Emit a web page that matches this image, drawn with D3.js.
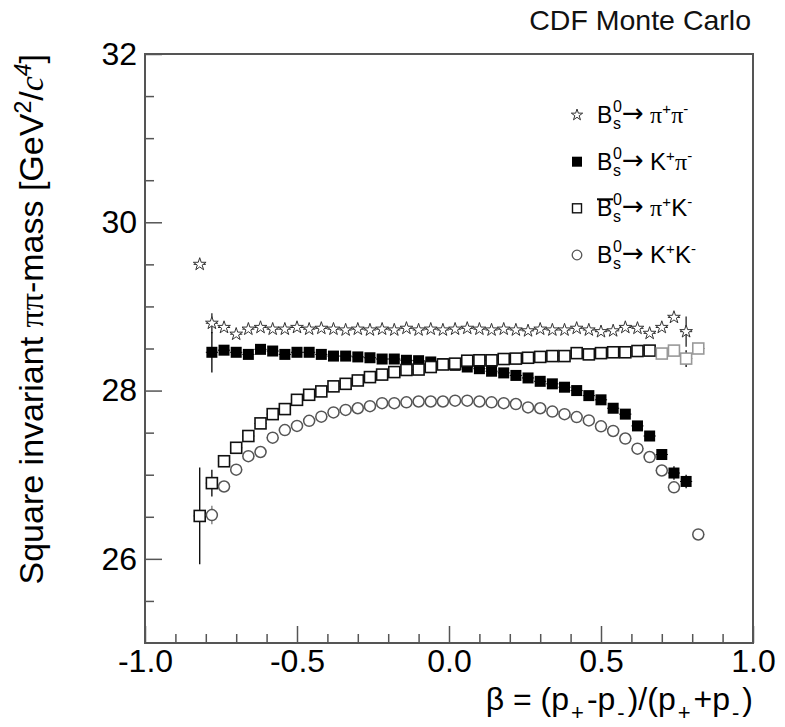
<!DOCTYPE html>
<html>
<head>
<meta charset="utf-8">
<script src="https://cdn.jsdelivr.net/npm/d3@7"></script>
<style>
  html, body { margin: 0; padding: 0; background: #fff; }
  svg { display: block; }
  text { font-family: "Liberation Sans", Arial, Helvetica, sans-serif; }
</style>
</head>
<body>
<svg id="chart" width="785" height="727"></svg>
<script>
// ---------- data ----------
const betaBins = [-0.82,-0.78,-0.74,-0.70,-0.66,-0.62,-0.58,-0.54,-0.50,-0.46,-0.42,-0.38,-0.34,-0.30,-0.26,-0.22,-0.18,-0.14,-0.10,-0.06,-0.02,
                  0.02,0.06,0.10,0.14,0.18,0.22,0.26,0.30,0.34,0.38,0.42,0.46,0.50,0.54,0.58,0.62,0.66,0.70,0.74,0.78,0.82];

const massPiPi = [29.50,28.80,28.75,28.67,28.73,28.75,28.73,28.73,28.75,28.73,28.74,28.73,28.72,28.73,28.72,28.73,28.72,28.74,28.72,28.73,28.72,
                  28.73,28.74,28.73,28.72,28.73,28.72,28.71,28.73,28.72,28.72,28.74,28.72,28.70,28.71,28.75,28.74,28.68,28.75,28.87,28.70,null];

const massKPi  = [null,28.455,28.48,28.455,28.43,28.49,28.47,28.43,28.455,28.455,28.43,28.41,28.41,28.40,28.39,28.375,28.375,28.36,28.355,28.34,28.32,
                  28.30,28.28,28.26,28.23,28.21,28.18,28.15,28.11,28.08,28.04,28.00,27.94,27.89,27.79,27.72,27.58,27.46,27.24,27.02,26.92,null];

const massPiK  = [26.51,26.90,27.16,27.32,27.46,27.61,27.72,27.78,27.89,27.95,27.99,28.05,28.08,28.12,28.16,28.19,28.22,28.245,28.25,28.28,28.31,
                  28.32,28.355,28.36,28.36,28.375,28.38,28.39,28.40,28.41,28.41,28.445,28.43,28.445,28.455,28.455,28.47,28.475,28.44,28.475,28.38,28.50];

const massKK   = [null,26.52,26.86,27.06,27.22,27.27,27.44,27.53,27.58,27.64,27.69,27.74,27.77,27.79,27.815,27.85,27.85,27.86,27.87,27.87,27.87,
                  27.88,27.88,27.87,27.86,27.85,27.84,27.80,27.79,27.75,27.72,27.685,27.645,27.575,27.52,27.43,27.31,27.21,27.05,26.85,null,26.29];

// vertical error bars that are visible: [beta, error]
const errPiPi = [[-0.78,0.12],[0.78,0.18]];
const errKPi  = [[-0.78,0.24],[0.74,0.08],[0.78,0.08]];
const errPiK  = [[-0.82,0.575],[-0.78,0.16],[0.78,0.10]];
const errKK   = [[-0.78,0.11]];
const halfBin = 0.02;

const xMajorTicks = [-1.0,-0.5,0.0,0.5,1.0];
const xMinorTicks = [-0.9,-0.8,-0.7,-0.6,-0.4,-0.3,-0.2,-0.1,0.1,0.2,0.3,0.4,0.6,0.7,0.8,0.9];
const yMajorTicks = [26,28,30,32];
const yMinorTicks = [25.5,26.5,27,27.5,28.5,29,29.5,30.5,31,31.5];

// ---------- layout ----------
const L = 145, R = 753, T = 54, B = 643;
const svg = d3.select("#chart");
const x = d3.scaleLinear().domain([-1, 1]).range([L, R]);
const y = d3.scaleLinear().domain([25, 32]).range([B, T]);
const frameColor = "#555";

// axes
const xAxis = svg.append("g").attr("transform", `translate(0,${B})`)
  .call(d3.axisBottom(x).tickValues(xMajorTicks).tickFormat(d => d.toFixed(1))
        .tickSizeInner(-17).tickSizeOuter(0).tickPadding(6));
const xAxisMinor = svg.append("g").attr("transform", `translate(0,${B})`)
  .call(d3.axisBottom(x).tickValues(xMinorTicks).tickFormat("").tickSizeInner(-9).tickSizeOuter(0));
const yAxis = svg.append("g").attr("transform", `translate(${L},0)`)
  .call(d3.axisLeft(y).tickValues(yMajorTicks).tickFormat(d3.format("d"))
        .tickSizeInner(-17).tickSizeOuter(0).tickPadding(8));
const yAxisMinor = svg.append("g").attr("transform", `translate(${L},0)`)
  .call(d3.axisLeft(y).tickValues(yMinorTicks).tickFormat("").tickSizeInner(-9).tickSizeOuter(0));

[xAxis, xAxisMinor, yAxis, yAxisMinor].forEach(g => {
  g.select(".domain").remove();
  g.selectAll(".tick line").attr("stroke", frameColor).attr("stroke-width", 1.5);
  g.selectAll(".tick text").attr("fill", "#000").style("font-size", "32px")
    .style("font-family", "'Liberation Sans', Arial, sans-serif");
});

// frame
svg.append("rect").attr("x", L).attr("y", T).attr("width", R - L).attr("height", B - T)
  .attr("fill", "none").attr("stroke", frameColor).attr("stroke-width", 2);

// ---------- data marks ----------
function pts(vals) {
  return betaBins.map((b, i) => ({b, v: vals[i]})).filter(d => d.v !== null);
}
const plot = svg.append("g");

function drawSeries(vals, errs, color, markerFn) {
  const data = pts(vals);
  const g = plot.append("g");
  g.selectAll("line.h").data(data).join("line")
    .attr("x1", d => x(d.b - halfBin)).attr("x2", d => x(d.b + halfBin))
    .attr("y1", d => y(d.v)).attr("y2", d => y(d.v))
    .attr("stroke", color).attr("stroke-width", 1);
  const eData = errs.map(([b, e]) => ({b, e, v: vals[betaBins.findIndex(t => Math.abs(t - b) < 1e-6)]}));
  g.selectAll("line.v").data(eData).join("line")
    .attr("x1", d => x(d.b)).attr("x2", d => x(d.b))
    .attr("y1", d => y(d.v - d.e)).attr("y2", d => y(d.v + d.e))
    .attr("stroke", color).attr("stroke-width", 1.3);
  markerFn(g, data);
}

const starPath = d3.symbol().type(d3.symbolStar).size(50)();

drawSeries(massPiPi, errPiPi, "#222", (g, data) => {
  g.selectAll("path.star").data(data).join("path")
    .attr("d", starPath)
    .attr("transform", d => `translate(${x(d.b)},${y(d.v)})`)
    .attr("fill", "#fff").attr("stroke", "#333").attr("stroke-width", 1);
});

drawSeries(massKPi, errKPi, "#000", (g, data) => {
  g.selectAll("rect").data(data).join("rect")
    .attr("x", d => x(d.b) - 5.5).attr("y", d => y(d.v) - 5.5)
    .attr("width", 11).attr("height", 11).attr("fill", "#000");
});

drawSeries(massPiK, errPiK, "#000", (g, data) => {
  g.selectAll("rect").data(data).join("rect")
    .attr("x", d => x(d.b) - 5.5).attr("y", d => y(d.v) - 5.5)
    .attr("width", 11).attr("height", 11).attr("fill", "#fff")
    .attr("stroke", d => d.b > 0.68 ? "#999" : "#111").attr("stroke-width", 1.6);
});

drawSeries(massKK, errKK, "#777", (g, data) => {
  g.selectAll("circle").data(data).join("circle")
    .attr("cx", d => x(d.b)).attr("cy", d => y(d.v)).attr("r", 5.5)
    .attr("fill", "#fff").attr("stroke", "#555").attr("stroke-width", 1.5);
});

// ---------- legend ----------
const legendRows = [
  {type: "star",   bar: false, parts: [["π","serif"],["+","sup"],["π","serif"],["-","sup"]]},
  {type: "filled", bar: false, parts: [["K","sans"],["+","sup"],["π","serif"],["-","sup"]]},
  {type: "open",   bar: true,  parts: [["π","serif"],["+","sup"],["K","sans"],["-","sup"]]},
  {type: "circle", bar: false, parts: [["K","sans"],["+","sup"],["K","sans"],["-","sup"]]}
];
const legendY = [115, 161.7, 208.3, 255];
const lg = svg.append("g");
legendRows.forEach((row, i) => {
  const cy = legendY[i], base = cy + 8, mx = 577;
  if (row.type === "star") {
    lg.append("path").attr("d", d3.symbol().type(d3.symbolStar).size(40)())
      .attr("transform", `translate(${mx},${cy})`).attr("fill", "#fff").attr("stroke", "#333").attr("stroke-width", 1);
  } else if (row.type === "filled") {
    lg.append("rect").attr("x", mx - 5).attr("y", cy - 5).attr("width", 10).attr("height", 10).attr("fill", "#000");
  } else if (row.type === "open") {
    lg.append("rect").attr("x", mx - 4.5).attr("y", cy - 4.5).attr("width", 9).attr("height", 9)
      .attr("fill", "#fff").attr("stroke", "#111").attr("stroke-width", 1.4);
  } else {
    lg.append("circle").attr("cx", mx).attr("cy", cy).attr("r", 4.8)
      .attr("fill", "#fff").attr("stroke", "#555").attr("stroke-width", 1.3);
  }
  lg.append("text").attr("x", 597).attr("y", base).style("font-size", "23px").text("B");
  lg.append("text").attr("x", 613).attr("y", base + 6).style("font-size", "16px").text("s");
  lg.append("text").attr("x", 613).attr("y", base - 11).style("font-size", "16px").text("0");
  if (row.bar) {
    lg.append("line").attr("x1", 597).attr("x2", 613).attr("y1", base - 17).attr("y2", base - 17)
      .attr("stroke", "#000").attr("stroke-width", 2);
  }
  lg.append("text").attr("x", 622).attr("y", base - 1).style("font-size", "26px")
    .style("font-family", "'DejaVu Sans', sans-serif").text("→");
  const t = lg.append("text").attr("x", 650).attr("y", base).style("font-size", "24px");
  row.parts.forEach(([s, kind]) => {
    if (kind === "serif") {
      t.append("tspan").style("font-family", "'Liberation Serif', 'DejaVu Serif', serif").text(s);
    } else if (kind === "sans") {
      t.append("tspan").text(s);
    } else {
      t.append("tspan").attr("dy", -9).style("font-size", "15px").text(s);
      t.append("tspan").attr("dy", 9).style("font-size", "1px").text(" ");
    }
  });
});

// ---------- titles ----------
svg.append("text").attr("x", 751).attr("y", 30).attr("text-anchor", "end")
  .style("font-size", "28.5px").attr("fill", "#111").text("CDF Monte Carlo");

// x title
const xt = svg.append("text").attr("x", 753).attr("y", 710).attr("text-anchor", "end").style("font-size", "32px");
const xParts = [["β = (p",0],["+",1],["-p",0],["-",1],[")/(p",0],["+",1],["+p",0],["-",1],[")",0]];
let prevSub = 0;
xParts.forEach(([s, sub]) => {
  const dy = sub ? 10 : (prevSub ? -10 : 0);
  xt.append("tspan").attr("dy", dy).attr("dx", sub ? 2 : (prevSub ? 3 : 0))
    .style("font-size", sub ? "22px" : "32px").text(s);
  prevSub = sub;
});

// y title
const yt = svg.append("text").attr("transform", "translate(43,54) rotate(-90)")
  .attr("text-anchor", "end").style("font-size", "34px");
yt.append("tspan").text("Square invariant ");
yt.append("tspan").style("font-family", "'Liberation Serif', 'DejaVu Serif', serif").text("ππ");
yt.append("tspan").text("-mass [GeV");
yt.append("tspan").attr("dy", -12).style("font-size", "23px").text("2");
yt.append("tspan").attr("dy", 12).text("/");
yt.append("tspan").style("font-style", "italic").style("font-family", "'Liberation Serif', serif").text("c");
yt.append("tspan").attr("dy", -12).style("font-size", "23px").style("font-style", "italic").text("4");
yt.append("tspan").attr("dy", 12).text("]");
</script>
</body>
</html>
